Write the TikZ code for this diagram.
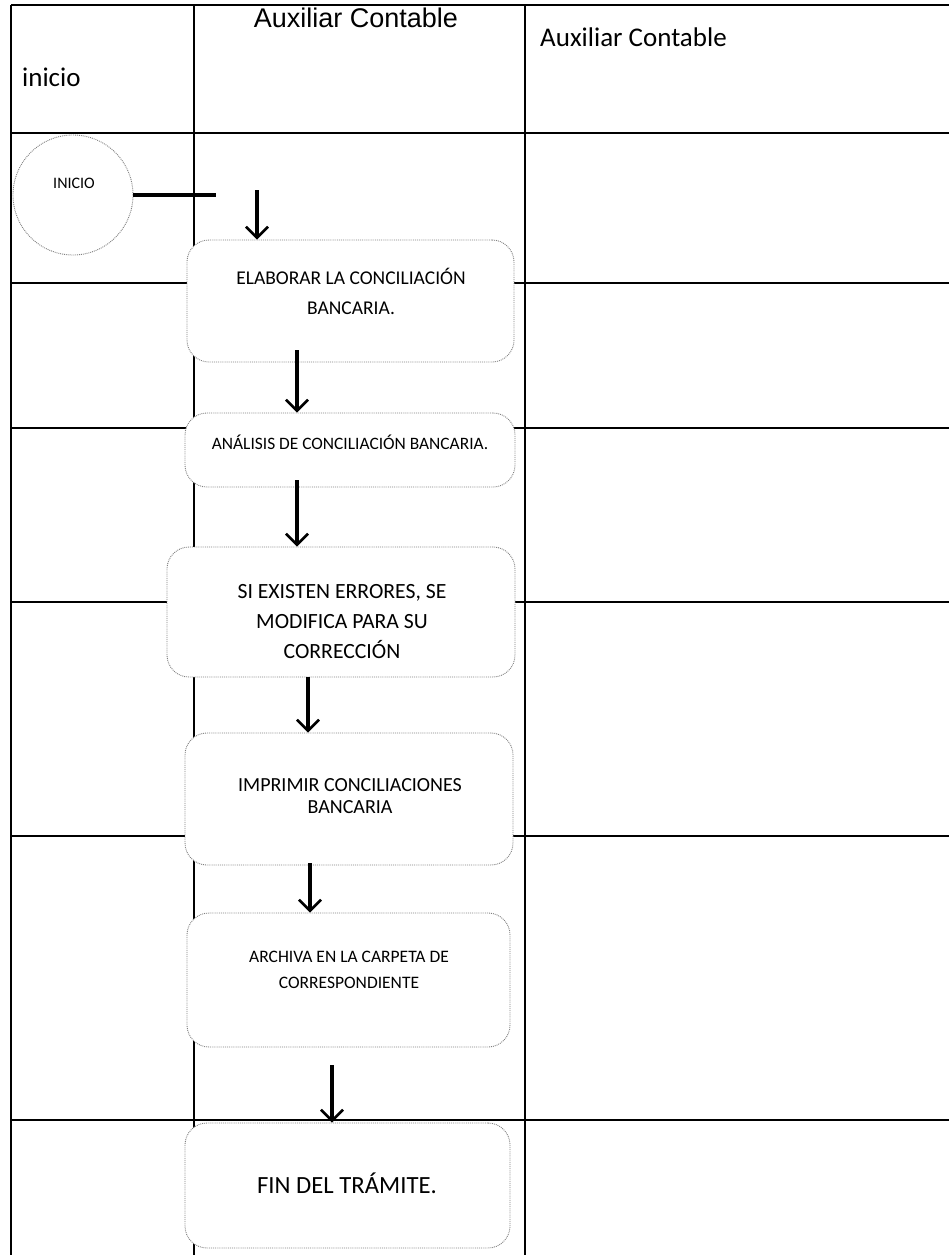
\documentclass[tikz,border=0pt]{standalone}
\usepackage{fontspec}
\setmainfont{Carlito}
\newfontfamily\headfont{Liberation Sans}
\usetikzlibrary{arrows.meta}
\begin{document}
\begin{tikzpicture}[x=1pt,y=-1pt,
  grid/.style={line width=1.7pt,black},
  stepbox/.style={draw=gray, densely dotted, line width=0.9pt,
    rounded corners=22pt, fill=white, inner sep=0pt},
  startcircle/.style={draw=gray, densely dotted, line width=0.9pt,
    circle, fill=white, inner sep=0pt, minimum size=120pt},
  boxtext/.style={align=center, inner sep=0pt, text=black},
  link/.style={line width=3.4pt, black},
  flow/.style={line width=3.4pt, black,
    -{Straight Barb[length=11pt,width=22pt,line width=2.6pt]}},
]
\useasboundingbox[fill=white] (0,0) rectangle (949,1255);

% table frame: columns and rows
\draw[grid] (11,5) -- (949,5);
\foreach \yy in {133,283,428,602,836,1120}
  \draw[grid] (11,\yy) -- (949,\yy);
\draw[grid] (11,5) -- (11,1255);
\draw[grid] (194,5) -- (194,1255);
\draw[grid] (525,5) -- (525,1255);

% column headers
\node[anchor=base west, inner sep=0pt, font=\fontsize{27}{30}\selectfont] (hinicio) at (22,86) {inicio};
\node[anchor=base, inner sep=0pt, font=\headfont\fontsize{27}{30}\selectfont] (haux1) at (356,28) {Auxiliar Contable};
\node[anchor=base west, inner sep=0pt, font=\fontsize{27}{30}\selectfont] (haux2) at (540,47) {Auxiliar Contable};

% start terminal
\node[startcircle] (ini) at (73,195) {};
\node[boxtext, font=\fontsize{16}{18}\selectfont] (initxt) at (74,183) {INICIO};
\coordinate (iniend) at (216,195);
\draw[link] (ini.east) -- (iniend);

% process steps
\node[stepbox, minimum width=327pt, minimum height=122pt] (elab) at (350.5,301) {};
\node[boxtext, font=\fontsize{19.5}{30}\selectfont] (elabtxt) at (351,291)
  {ELABORAR LA CONCILIACIÓN\\BANCARIA.};

\node[stepbox, minimum width=330pt, minimum height=74pt] (anal) at (350,450) {};
\node[boxtext, font=\fontsize{17.4}{20}\selectfont] (analtxt) at (350,442)
  {ANÁLISIS DE CONCILIACIÓN BANCARIA.};

\node[stepbox, minimum width=348pt, minimum height=130pt] (siex) at (341,612) {};
\node[boxtext, font=\fontsize{21.7}{30}\selectfont] (siextxt) at (342,622)
  {SI EXISTEN ERRORES, SE\\MODIFICA PARA SU\\CORRECCIÓN};

\node[stepbox, minimum width=328pt, minimum height=132pt] (impr) at (349,799) {};
\node[boxtext, font=\fontsize{20}{22}\selectfont] (imprtxt) at (350,796)
  {IMPRIMIR CONCILIACIONES\\BANCARIA};

\node[stepbox, minimum width=323pt, minimum height=134pt] (arch) at (348.5,980) {};
\node[boxtext, font=\fontsize{17.5}{26}\selectfont] (archtxt) at (349,970)
  {ARCHIVA EN LA CARPETA DE\\CORRESPONDIENTE};

\node[stepbox, minimum width=325pt, minimum height=125pt] (fin) at (347.5,1185.5) {};
\node[boxtext, font=\fontsize{24.7}{28}\selectfont] (fintxt) at (347,1183)
  {FIN DEL TRÁMITE.};

% flow arrows
\coordinate (x0) at (257,190);
\coordinate (x1) at (297,0);
\coordinate (x2) at (308,0);
\coordinate (x3) at (310,0);
\coordinate (x4) at (332,0);
\draw[flow] (x0) -- (elab.north -| x0);
\draw[flow] ([yshift=12pt]elab.south -| x1) -- (anal.north -| x1);
\draw[flow] ([yshift=7pt]anal.south -| x1) -- (siex.north -| x1);
\draw[flow] (siex.south -| x2) -- (impr.north -| x2);
\draw[flow] ([yshift=2pt]impr.south -| x3) -- (arch.north -| x3);
\draw[flow] ([yshift=-18pt]arch.south -| x4) -- (fin.north -| x4);
\end{tikzpicture}
\end{document}
